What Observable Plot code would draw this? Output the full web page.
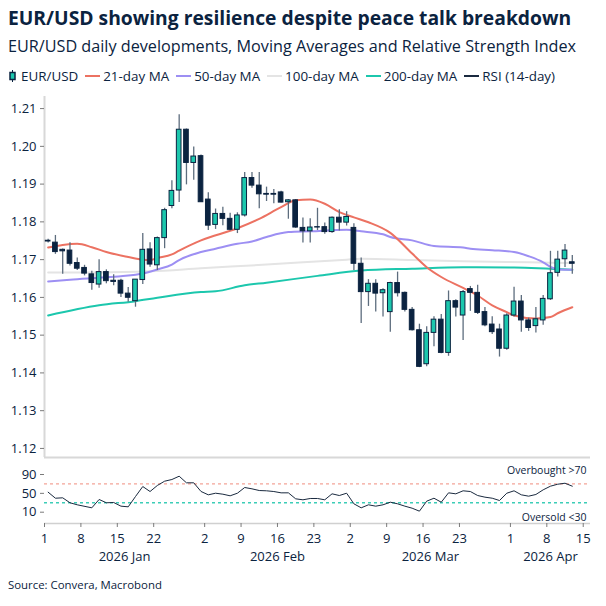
<!DOCTYPE html>
<html>
<head>
<meta charset="utf-8">
<script src="https://cdn.jsdelivr.net/npm/d3@7"></script>
<script src="https://cdn.jsdelivr.net/npm/@observablehq/plot@0.6"></script>
<style>
  body { margin: 0; background: #fff; }
  #chart { position: relative; width: 606px; height: 606px; overflow: hidden;
           font-family: "Open Sans", sans-serif; color: #0b2340; }
  .title { position: absolute; left: 8px; top: 4px; font-size: 19.3px; font-weight: 700; white-space: nowrap; }
  .subtitle { position: absolute; left: 8px; top: 35px; font-size: 16.2px; white-space: nowrap; }
  .legend { position: absolute; left: 9px; top: 67px; display: flex; align-items: center; font-size: 13.4px; white-space: nowrap; }
  .legend .item { display: flex; align-items: center; margin-right: 7px; }
  .legend .sw { width: 15px; height: 2.5px; margin-right: 3px; }
  .legend svg { margin-right: 5px; }
  #main { position: absolute; left: 0; top: 90px; }
  #rsi { position: absolute; left: 0; top: 460px; }
  .source { position: absolute; left: 8px; top: 577px; font-size: 11.4px; white-space: nowrap; }
</style>
</head>
<body>
<div id="chart">
  <div class="title">EUR/USD showing resilience despite peace talk breakdown</div>
  <div class="subtitle">EUR/USD daily developments, Moving Averages and Relative Strength Index</div>
  <div class="legend" id="legend"></div>
  <div id="main"></div>
  <div id="rsi"></div>
  <div class="source">Source: Convera, Macrobond</div>
</div>
<script>
// ---- Daily EUR/USD candles, one entry per trading session from 1 Jan 2026 ----
const open  = [1.1750,1.1745,1.1726,1.1724,1.1691,1.1678,1.1661,1.1634,1.1667,1.1644,1.1644,1.1610,1.1590,1.1646,1.1727,1.1685,1.1757,1.1842,1.1883,1.2044,1.1956,1.1974,
               1.1859,1.1792,1.1821,1.1808,1.1779,1.1817,1.1916,1.1896,1.1874,1.1874,1.1878,1.1852,1.1857,1.1784,1.1775,1.1786,1.1786,1.1773,1.1811,1.1798,
               1.1784,1.1689,1.1614,1.1636,1.1611,1.1561,1.1638,1.1612,1.1567,1.1513,1.1423,1.1506,1.1541,1.1453,1.1590,1.1552,1.1622,1.1612,1.1561,1.1528,1.1515,1.1464,
               1.1552,1.1589,1.1539,1.1524,1.1539,1.1595,1.1665,1.1701,1.1693];
const high  = [1.1754,1.1764,1.1728,1.1745,1.1704,1.1685,1.1669,1.1700,1.1673,1.1660,1.1648,1.1626,1.1647,1.1769,1.1745,1.1760,1.1836,1.1909,1.2084,1.2046,1.1998,1.1977,
               1.1877,1.1834,1.1839,1.1823,1.1824,1.1931,1.1931,1.1931,1.1892,1.1886,1.1881,1.1859,1.1859,1.1810,1.1808,1.1836,1.1797,1.1813,1.1832,1.1827,
               1.1795,1.1704,1.1647,1.1647,1.1623,1.1640,1.1667,1.1614,1.1573,1.1529,1.1522,1.1549,1.1555,1.1617,1.1594,1.1618,1.1629,1.1632,1.1573,1.1549,1.1529,1.1557,
               1.1627,1.1605,1.1545,1.1573,1.1605,1.1722,1.1722,1.1740,1.1711];
const low   = [1.1744,1.1714,1.1661,1.1683,1.1671,1.1657,1.1619,1.1624,1.1636,1.1631,1.1600,1.1587,1.1574,1.1634,1.1680,1.1671,1.1729,1.1835,1.1851,1.1898,1.1910,1.1851,
               1.1777,1.1780,1.1790,1.1776,1.1769,1.1813,1.1889,1.1835,1.1854,1.1848,1.1850,1.1807,1.1783,1.1744,1.1744,1.1777,1.1767,1.1770,1.1776,1.1789,
               1.1671,1.1531,1.1576,1.1561,1.1548,1.1508,1.1601,1.1561,1.1511,1.1414,1.1416,1.1469,1.1451,1.1444,1.1548,1.1486,1.1563,1.1555,1.1522,1.1502,1.1442,1.1460,
               1.1548,1.1508,1.1510,1.1506,1.1526,1.1592,1.1654,1.1679,1.1661];
const close = [1.1748,1.1720,1.1722,1.1689,1.1676,1.1663,1.1638,1.1667,1.1643,1.1641,1.1610,1.1599,1.1647,1.1726,1.1687,1.1757,1.1831,1.1882,1.2044,1.1956,1.1973,1.1852,
               1.1790,1.1821,1.1808,1.1779,1.1817,1.1916,1.1896,1.1873,1.1872,1.1872,1.1851,1.1857,1.1785,1.1775,1.1785,1.1785,1.1773,1.1811,1.1798,1.1813,
               1.1689,1.1614,1.1636,1.1610,1.1619,1.1638,1.1611,1.1567,1.1513,1.1416,1.1506,1.1541,1.1453,1.1590,1.1573,1.1614,1.1612,1.1559,1.1526,1.1508,1.1464,1.1552,
               1.1589,1.1539,1.1519,1.1542,1.1596,1.1664,1.1700,1.1724,1.1689];

// ---- Moving averages: session number and level ----
const ma21Session  = [0,2,4,6,8,11,13,14,15,17,18,21,26,29,32,34,36,38,40,42,44,47,50,52,54,57,59,61,63,64,67,69,70,72];
const ma21Value    = [1.1732,1.1739,1.1742,1.1733,1.1720,1.1707,1.1700,1.1699,1.1704,1.1714,1.1724,1.1751,1.1783,1.1808,1.1839,1.1857,1.1859,1.1848,1.1826,1.1812,
                      1.1799,1.1771,1.1716,1.1680,1.1654,1.1625,1.1605,1.1579,1.1561,1.1552,1.1544,1.1548,1.1558,1.1574];
const ma50Session  = [0,3,7,10,13,15,17,18,21,23,26,28,30,33,36,41,43,46,47,50,53,57,58,61,64,66,68,69,70,72];
const ma50Value    = [1.1642,1.1647,1.1652,1.1656,1.1663,1.1674,1.1687,1.1699,1.1720,1.1729,1.1742,1.1748,1.1760,1.1773,1.1775,1.1779,1.1775,1.1767,1.1760,1.1751,
                      1.1736,1.1732,1.1729,1.1725,1.1720,1.1709,1.1693,1.1681,1.1674,1.1673];
const ma100Session = [0,7,14,21,30,41,43,50,57,66,72];
const ma100Value   = [1.1666,1.1666,1.1669,1.1677,1.1687,1.1700,1.1702,1.1699,1.1696,1.1693,1.1691];
const ma200Session = [0,7,12,15,21,23,27,30,37,43,50,57,64,72];
const ma200Value   = [1.1552,1.1579,1.1590,1.1599,1.1614,1.1616,1.1632,1.1639,1.1657,1.1671,1.1676,1.1680,1.1679,1.1673];

// ---- RSI (14-day) ----
const rsiSession = [0,1,2,3,4,6,7,8,9,10,11,12,13,14,15,16,17,18,19,20,21,22,23,24,25,26,27,28,29,30,31,32,33,34,35,36,
                    37,38,39,40,41,42,43,44,45,46,47,48,49,50,51,52,53,54,55,56,57,58,59,60,61,62,63,64,65,66,67,68,69,70,71,72];
const rsiValue   = [52.5,39.7,40.5,30.0,25.7,19.3,37.0,30.0,30.6,22.8,21.4,43.3,64.5,53.9,66.7,75.8,79.4,86.4,72.4,72.4,54.0,46.9,50.3,48.2,
                    44.8,50.3,62.4,59.6,56.0,55.4,53.9,51.1,51.1,38.4,36.3,39.1,39.1,36.3,49.0,45.4,50.3,27.8,19.3,25.7,22.8,25.7,31.2,27.8,
                    22.8,18.5,12.2,33.4,39.7,31.2,51.1,49.0,55.4,53.9,45.4,41.9,39.7,34.8,50.3,55.4,46.9,44.0,47.6,57.5,65.2,69.4,71.5,65.2];
const overbought = 70, oversold = 30;

// ---- Axes ----
const priceTicks = [1.12,1.13,1.14,1.15,1.16,1.17,1.18,1.19,1.20,1.21];
const rsiTicks = [10, 50, 90];
const dateTicks = ["2026-01-01","2026-01-08","2026-01-15","2026-01-22","2026-02-02","2026-02-09","2026-02-16","2026-02-23",
                   "2026-03-02","2026-03-09","2026-03-16","2026-03-23","2026-04-01","2026-04-08","2026-04-15"];
const monthKeys = ["2026-01","2026-02","2026-03","2026-04"];
const monthLabels = ["2026 Jan","2026 Feb","2026 Mar","2026 Apr"];

// Colours
const teal = "#1cc7ad", navy = "#0b2340", wick = "#5d6d7e";
const c21 = "#ec7262", c50 = "#9d8ff3", c100 = "#e4e4e4", c200 = "#1cc7ad", cRsi = "#1a2a3f";

// Trading calendar (weekdays) used as the x axis
const calendar = d3.utcDay.range(new Date("2026-01-01"), new Date("2026-04-17"))
  .filter(d => d.getUTCDay() % 6 !== 0)
  .map(d => d3.utcFormat("%Y-%m-%d")(d));
const xMax = calendar.length - 1;
const sessionOf = s => calendar.indexOf(s);

const candles = open.map((o, i) => ({i, open: o, high: high[i], low: low[i], close: close[i], up: close[i] >= o}));
const series = (s, v) => s.map((d, k) => ({i: d, v: v[k]}));
const ma21 = series(ma21Session, ma21Value);
const ma50 = series(ma50Session, ma50Value);
const ma100 = series(ma100Session, ma100Value);
const ma200 = series(ma200Session, ma200Value);
const rsi = series(rsiSession, rsiValue);

const priceDomain = [1.1176, 1.2132];
const rsiDomain = [-14, 115.5];
const bodyHalf = 0.32;
const style = {fontFamily: "Open Sans", fontSize: "13px", color: navy, background: "white", overflow: "visible"};

const main = Plot.plot({
  width: 606, height: 370, marginTop: 6, marginBottom: 3, marginLeft: 44, marginRight: 16,
  style,
  x: {domain: [0, xMax], axis: null},
  y: {domain: priceDomain},
  marks: [
    Plot.ruleX([0], {stroke: "#d8d8d8", strokeWidth: 2}),
    Plot.ruleY([priceDomain[0]], {stroke: "#d8d8d8", strokeWidth: 2}),
    Plot.axisY({ticks: priceTicks, tickFormat: d3.format(".2f"), tickSize: 4, tickPadding: 4, stroke: "#7a7a7a", fill: navy, fontSize: 13, label: null}),
    Plot.line(ma100, {x: d => d.i + 0.5, y: "v", stroke: c100, strokeWidth: 2, curve: "monotone-x"}),
    Plot.line(ma200, {x: d => d.i + 0.5, y: "v", stroke: c200, strokeWidth: 2, curve: "monotone-x"}),
    Plot.line(ma50, {x: d => d.i + 0.5, y: "v", stroke: c50, strokeWidth: 2, curve: "monotone-x"}),
    Plot.line(ma21, {x: d => d.i + 0.5, y: "v", stroke: c21, strokeWidth: 2, curve: "monotone-x"}),
    Plot.ruleX(candles, {x: d => d.i + 0.5, y1: "low", y2: "high", stroke: wick, strokeWidth: 1.3}),
    Plot.rect(candles, {x1: d => d.i + 0.5 - bodyHalf, x2: d => d.i + 0.5 + bodyHalf, y1: "open", y2: "close",
      fill: d => d.up ? teal : navy, stroke: navy, strokeWidth: 1})
  ]
});
document.getElementById("main").append(main);

const monthMid = monthKeys.map((m, k) => {
  const a = calendar.findIndex(d => d.startsWith(m));
  const b = k + 1 < monthKeys.length ? calendar.findIndex(d => d.startsWith(monthKeys[k + 1])) : xMax;
  return (a + b) / 2;
});

const rsiPlot = Plot.plot({
  width: 606, height: 113, marginTop: 2, marginBottom: 50, marginLeft: 44, marginRight: 16,
  style,
  x: {domain: [0, xMax]},
  y: {domain: rsiDomain},
  marks: [
    Plot.ruleY([rsiDomain[0]], {stroke: "#d0d0d0", strokeWidth: 1.5}),
    Plot.ruleY([overbought], {stroke: "#f4a498", strokeWidth: 1.3, strokeDasharray: "3,3"}),
    Plot.ruleY([oversold], {stroke: "#3ccdb7", strokeWidth: 1.3, strokeDasharray: "3,3"}),
    Plot.axisY({ticks: rsiTicks, tickSize: 4, tickPadding: 4, stroke: "#7a7a7a", fill: navy, fontSize: 13, label: null}),
    Plot.axisX({ticks: dateTicks.map(sessionOf), tickFormat: i => +calendar[i].slice(8), tickSize: 4, tickPadding: 6,
      stroke: "#7a7a7a", fill: navy, fontSize: 13, label: null}),
    Plot.axisX({ticks: monthMid, tickFormat: (d, k) => monthLabels[k], tickSize: 0, tickPadding: 28,
      fill: navy, fontSize: 13, label: null}),
    Plot.line(rsi, {x: d => d.i + 0.5, y: "v", stroke: cRsi, strokeWidth: 1}),
    Plot.text(["Overbought >70"], {x: xMax, y: overbought, dy: -13, dx: -4, textAnchor: "end", fontSize: 10.5, fill: navy}),
    Plot.text(["Oversold <30"], {x: xMax, y: oversold, dy: 15, dx: -4, textAnchor: "end", fontSize: 10.5, fill: navy})
  ]
});
document.getElementById("rsi").append(rsiPlot);

// Legend
const legendItems = [
  {label: "EUR/USD", candle: true},
  {label: "21-day MA", color: c21},
  {label: "50-day MA", color: c50},
  {label: "100-day MA", color: c100},
  {label: "200-day MA", color: c200},
  {label: "RSI (14-day)", color: cRsi, thin: true}
];
const legend = document.getElementById("legend");
for (const it of legendItems) {
  const el = document.createElement("div");
  el.className = "item";
  if (it.candle) {
    el.innerHTML = `<svg width="7" height="12"><line x1="3.5" x2="3.5" y1="0" y2="12" stroke="${navy}" stroke-width="1"/>` +
      `<rect x="1" y="2.5" width="5" height="7" fill="${teal}" stroke="${navy}" stroke-width="1.5"/></svg>`;
  } else {
    const sw = document.createElement("div");
    sw.className = "sw";
    sw.style.background = it.color;
    if (it.thin) sw.style.height = "1.5px";
    el.append(sw);
  }
  const t = document.createElement("span");
  t.textContent = it.label;
  el.append(t);
  legend.append(el);
}
</script>
</body>
</html>
